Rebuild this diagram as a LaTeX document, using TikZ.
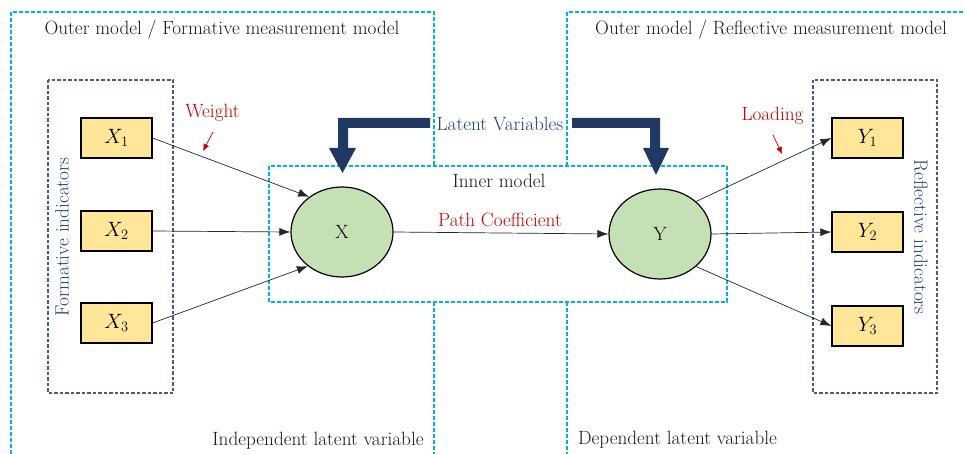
\documentclass[tikz,border=0pt]{standalone}
\usetikzlibrary{arrows.meta,shapes.geometric}
\definecolor{cyanline}{HTML}{00B0F0}
\definecolor{darkdash}{HTML}{4A5B7E}
\definecolor{boxfill}{HTML}{FFE699}
\definecolor{ellfill}{HTML}{C5E0B4}
\definecolor{navy}{HTML}{203864}
\definecolor{bluetext}{HTML}{223F7A}
\definecolor{redtext}{HTML}{C00000}
\definecolor{graytext}{HTML}{1A1A1A}
\begin{document}
\begin{tikzpicture}[x=1pt,y=-1pt,
  every node/.style={font=\fontsize{19.2}{22}\selectfont, inner sep=0pt},
  cyanframe/.style={draw=cyanline, line width=1.1pt, dash pattern=on 4pt off 2pt},
  darkframe/.style={draw=darkdash, line width=1.1pt, dash pattern=on 3.5pt off 2pt},
  indbox/.style={draw=black, line width=1.2pt, fill=boxfill, minimum width=71pt, minimum height=40pt},
  latent/.style={ellipse, draw=black, line width=1.2pt, fill=ellfill, minimum width=102pt, minimum height=90pt},
  conn/.style={draw=black!85, line width=0.7pt, -{Latex[length=11pt,width=8pt]}},
  redarrow/.style={draw=redtext, line width=0.7pt, -{Latex[length=7pt,width=6pt]}},
  bigarrow/.style={fill=navy, draw=none},
  plain/.style={text=graytext},
  bluelabel/.style={text=bluetext},
  redlabel/.style={text=redtext}]
\useasboundingbox (0,0) rectangle (965,454);
% outer frames
\draw[cyanframe] (11,454) -- (11,12) -- (434,12) -- (434,166);
\draw[cyanframe] (434,302) -- (434,454);
\draw[cyanframe] (567,166) -- (567,12) -- (965,12);
\draw[cyanframe] (567,302) -- (567,454);
% inner model frame
\draw[cyanframe] (269,166) rectangle (727,302);
% indicator frames
\draw[darkframe] (48,80) rectangle (173,393);
\draw[darkframe] (813,80) rectangle (937,393);
% big arrows
\fill[bigarrow] (430,118) -- (338,118) -- (338,148) -- (329,148) -- (342.5,173) -- (356,148) -- (348,148) -- (348,128) -- (430,128) -- cycle;
\fill[bigarrow] (572,118) -- (660,118) -- (660,148) -- (669,148) -- (656,175) -- (643,148) -- (650,148) -- (650,128) -- (572,128) -- cycle;
% texts
\node[plain] (tform) at (222,30) {Outer model / Formative measurement model};
\node[plain] (trefl) at (771,30) {Outer model / Reflective measurement model};
\node[bluelabel] (tlat) at (500,124) {Latent Variables};
\node[plain] (tinner) at (499,181) {Inner model};
\node[redlabel] (tpath) at (500,220) {Path Coefficient};
\node[redlabel] (tweight) at (212.5,113) {Weight};
\node[redlabel] (tload) at (772.5,116) {Loading};
\node[plain] (tindep) at (318,441) {Independent latent variable};
\node[plain] (tdep) at (677.5,440) {Dependent latent variable};
\node[bluelabel, rotate=90] (tfi) at (62,237) {Formative indicators};
\node[bluelabel, rotate=-90] (tri) at (921,237) {Reflective indicators};
% indicator boxes
\node[indbox] (x1) at (116.5,138) {$X_1$};
\node[indbox] (x2) at (116.5,231) {$X_2$};
\node[indbox] (x3) at (116.5,323) {$X_3$};
\node[indbox] (y1) at (867.5,138) {$Y_1$};
\node[indbox] (y2) at (867.5,232) {$Y_2$};
\node[indbox] (y3) at (867.5,326) {$Y_3$};
% latent variables
\node[latent] (lx) at (342,232) {X};
\node[latent] (ly) at (660,234) {Y};
% connectors
\draw[conn] (x1.east) -- (lx.133);
\draw[conn] (x2.east) -- (lx.west);
\draw[conn] (x3.east) -- (lx.225);
\draw[conn] (lx.east) -- (ly.west);
\draw[conn] (ly.42) -- (y1.west);
\draw[conn] (ly.east) -- (y2.west);
\draw[conn] (ly.-42) -- (y3.west);
% small red arrows
\coordinate (wA) at (213,132);
\coordinate (wB) at (203,151);
\coordinate (lA) at (773,135);
\coordinate (lB) at (782,154);
\draw[redarrow] (wA) -- (wB);
\draw[redarrow] (lA) -- (lB);
\end{tikzpicture}
\end{document}
